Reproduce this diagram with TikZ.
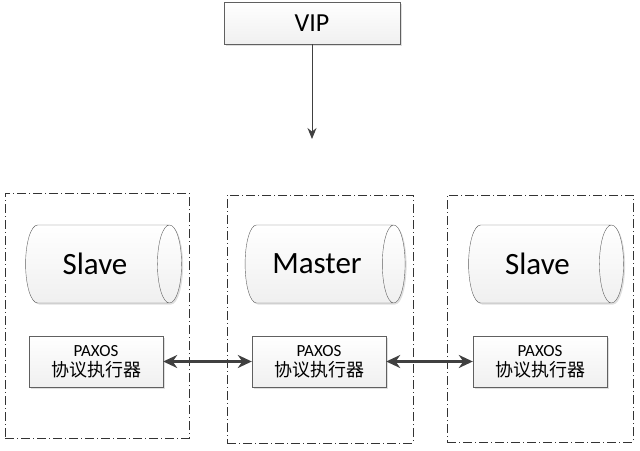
\documentclass[tikz,border=0pt]{standalone}
\usepackage{fontspec}
\setmainfont{Carlito}
\newfontfamily\cjk{Noto Sans CJK SC}
\usetikzlibrary{shapes.geometric,arrows.meta,shadows}

\tikzset{
  plainbox/.style={draw=gray!75!black,top color=white,bottom color=gray!12,
    drop shadow={shadow xshift=1.5pt,shadow yshift=-1.5pt,opacity=0.25},
    inner sep=0pt,align=center},
  dbcyl/.style={cylinder,draw=gray!75!black,aspect=0.85,
    minimum height=156pt,minimum width=78pt,shape border rotate=0,
    top color=white,bottom color=gray!12,
    drop shadow={shadow xshift=1.5pt,shadow yshift=-1.5pt,opacity=0.25},
    font=\fontsize{31}{33}\selectfont},
  hostbox/.style={draw=black!80,line width=0.8pt,
    dash pattern=on 9pt off 3pt on 1pt off 3pt,inner sep=0pt},
  syncarrow/.style={{Stealth[length=14pt,width=13pt]}-{Stealth[length=14pt,width=13pt]},
    line width=2.8pt,draw=black!75}
}

\begin{document}
\begin{tikzpicture}[x=1pt,y=-1pt]
            \useasboundingbox (0,0) rectangle (640,450);
            % hosts
            \node[hostbox,minimum width=184pt,minimum height=245pt] (host1) at (97,315.5) {};
            \node[hostbox,minimum width=186pt,minimum height=248pt] (host2) at (320,319) {};
            \node[hostbox,minimum width=186pt,minimum height=247pt] (host3) at (540,318.5) {};
            % VIP
            \node[plainbox,minimum width=176pt,minimum height=42pt,font=\fontsize{26}{28}\selectfont] (vip) at (312,23) {VIP};
            % databases
            \node[dbcyl] (db1) at (95,264) {Slave};
            \node[dbcyl,minimum height=160pt] (db2) at (317,264) {Master};
            \node[dbcyl,minimum height=155pt] (db3) at (537.5,264) {Slave};
            % paxos
            \foreach \i/\x in {1/96,2/319,3/540}
              \node[plainbox,minimum width=134pt,minimum height=51pt] (paxos\i) at (\x,361.5)
                {\fontsize{17}{20}\selectfont PAXOS\\[4pt]{\cjk\fontsize{18}{20}\selectfont 协议执行器}};
            \coordinate (vipend) at (312,139);
            \draw[-{Stealth[length=11pt,width=9pt]},draw=black!75,line width=1pt] (vip.south) -- (vipend);
            \draw[syncarrow] (paxos1.east) -- (paxos2.west);
            \draw[syncarrow] (paxos2.east) -- (paxos3.west);
        \end{tikzpicture}
\end{document}
